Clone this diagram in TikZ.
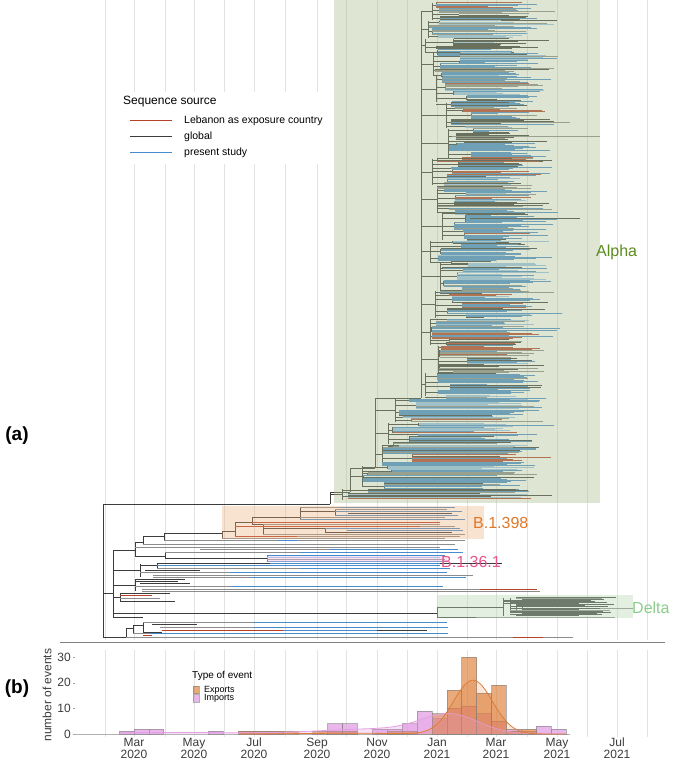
\documentclass[tikz,border=0pt]{standalone}
\usepackage{fontspec}
\setmainfont{Liberation Sans}
\definecolor{cblue}{RGB}{70,140,205}
\definecolor{clblue}{RGB}{150,195,235}
\definecolor{cdark}{RGB}{60,60,60}
\definecolor{cgray}{RGB}{140,140,140}
\definecolor{cred}{RGB}{180,65,40}
\definecolor{gridc}{RGB}{226,226,226}
\definecolor{alphabg}{RGB}{175,190,145}
\definecolor{bbg}{RGB}{235,175,125}
\definecolor{deltabg}{RGB}{187,217,182}
\definecolor{b361bg}{RGB}{240,190,220}
\definecolor{alphatxt}{RGB}{92,140,30}
\definecolor{btxt}{RGB}{225,120,40}
\definecolor{b361txt}{RGB}{232,84,140}
\definecolor{deltatxt}{RGB}{140,205,140}
\definecolor{expc}{RGB}{222,125,55}
\definecolor{impc}{RGB}{228,160,228}
\definecolor{axtxt}{RGB}{60,60,60}
\tikzset{
  gridline/.style={draw=gridc, line width=0.6pt},
  brline/.style={draw=cdark, line width=0.6pt},
  tipline/.style={line width=1pt},
  cladelbl/.style={anchor=west, inner sep=0pt, font=\fontsize{16}{16}\selectfont},
  monthlbl/.style={align=center, inner sep=0pt, text=axtxt, font=\fontsize{12}{12}\selectfont},
  ticklbl/.style={anchor=east, inner sep=0pt, text=axtxt, font=\fontsize{12}{12}\selectfont},
  panellbl/.style={inner sep=0pt, font=\fontsize{19}{19}\selectfont\bfseries},
  leglbl/.style={anchor=west, inner sep=0pt, font=\fontsize{10.5}{10.5}\selectfont},
  impbar/.style={fill=impc, fill opacity=0.75, draw=gray, draw opacity=0.6, line width=0.6pt},
  expbar/.style={fill=expc, fill opacity=0.65, draw=gray, draw opacity=0.6, line width=0.6pt},
}
\newcommand\picktc{%
  \pgfmathtruncatemacro\ci{random(1,100)}%
  \ifnum\ci<46 \def\tc{cblue}\else
  \ifnum\ci<58 \def\tc{clblue}\else
  \ifnum\ci<79 \def\tc{cdark}\else
  \ifnum\ci<95 \def\tc{cgray}\else
  \def\tc{cred}\fi\fi\fi\fi}
\def\grouploop{%
  \ifdim\cury pt<\cend pt
    \pgfmathtruncatemacro\gs{random(2,7)}%
    \pgfmathsetmacro\gx{\nodex+rnd*32}%
    \pgfmathsetmacro\gtop{\cury}%
    \pgfmathsetmacro\gbot{\cury+(\gs-1)*1.1}%
    \picktc\let\gc\tc
    \draw[brline] (\nodex,{(\gtop+\gbot)/2}) -- (\gx,{(\gtop+\gbot)/2});
    \draw[brline] (\gx,\gtop) -- (\gx,\gbot);
    \foreach \ti in {1,...,\gs}{%
      \pgfmathtruncatemacro\cj{random(1,100)}%
      \ifnum\cj<62 \let\tc\gc\else\picktc\fi
      \pgfmathsetmacro\ty{\gtop+(\ti-1)*1.1}%
      \pgfmathsetmacro\te{\endbase+rnd*44+rnd*44}%
      \draw[tipline,draw=\tc] (\gx,\ty) -- (\te,\ty);
    }%
    \pgfmathsetmacro\cury{\gbot+1.1}%
    \expandafter\grouploop
  \fi}
\newcommand\subclade[5]{%
  \draw[brline] (#3,#1) -- (#3,#2);
  \draw[brline] (#4,{(#1+#2)/2}) -- (#3,{(#1+#2)/2});
  \def\cury{#1}\def\cend{#2}\def\nodex{#3}\def\endbase{#5}%
  \grouploop}
\begin{document}
\begin{tikzpicture}[x=1pt,y=-1pt]
\useasboundingbox (0,0) rectangle (672,762);
\fill[white] (0,0) rectangle (672,762);
\pgfmathsetseed{7}
% grid
\foreach \gxx in {105,134,165,194,224,254,285,317,346,377,407,437,467,496,527,557,587,617,647}{
  \draw[gridline] (\gxx,0) -- (\gxx,640);
  \draw[gridline] (\gxx,650) -- (\gxx,737);
}
% legend (a)
\fill[white] (108,92) rectangle (332,164);
\node[anchor=west, inner sep=0pt, font=\fontsize{12}{12}\selectfont] (legtitle) at (123,102) {Sequence source};
\draw[cred, line width=1pt] (130,121) -- (172,121);
\draw[cdark, line width=1pt] (130,137) -- (172,137);
\draw[cblue, line width=1pt] (130,153) -- (172,153);
\node[leglbl] (legred) at (184,121) {Lebanon as exposure country};
\node[leglbl] (leggray) at (184,137) {global};
\node[leglbl] (legblue) at (184,153) {present study};

% ===== Alpha clade =====
\draw[brline] (421,11) -- (421,398);
\subclade{3}{20}{432}{421}{478}
\subclade{21}{38}{428}{421}{478}
\subclade{39}{52}{425}{421}{476}
\subclade{53}{75}{433}{421}{478}
\subclade{76}{102}{436}{421}{478}
\subclade{103}{128}{446}{421}{480}
\subclade{129}{158}{448}{421}{480}
\subclade{159}{185}{432}{421}{476}
\subclade{186}{212}{437}{421}{478}
\subclade{213}{240}{442}{421}{478}
\subclade{241}{262}{430}{421}{476}
\subclade{263}{290}{440}{421}{478}
\subclade{291}{318}{435}{421}{476}
\subclade{319}{345}{430}{421}{476}
\subclade{346}{372}{438}{421}{476}
\subclade{373}{396}{425}{421}{474}
\draw[brline] (375,398) -- (375,468);
\draw[brline] (375,398) -- (421,398);
\subclade{399}{422}{395}{375}{470}
\subclade{423}{444}{388}{375}{468}
\subclade{445}{463}{382}{375}{468}
\draw[brline] (350,468) -- (350,492);
\draw[brline] (350,468) -- (375,468);
\subclade{466}{487}{362}{350}{468}
\draw[brline] (330,492) -- (330,504);
\draw[brline] (330,492) -- (350,492);
\subclade{489}{500}{342}{330}{468}
\draw[tipline,draw=cgray] (452,137) -- (600,137);
\draw[tipline,draw=cgray] (462,123) -- (570,123);
\draw[tipline,draw=cdark] (470,218) -- (580,218);

% ===== root and lower tree =====
\draw[brline] (103,504) -- (103,637);
\draw[brline] (103,504) -- (330,504);
\draw[brline] (103,593) -- (113,593);
\draw[brline] (103,637) -- (126,637);
% N1
\draw[brline] (113,550) -- (113,617);
\draw[brline] (113,550) -- (135,550);
\draw[brline] (113,570) -- (140,570);
\draw[brline] (113,585) -- (135,585);
\draw[brline] (113,597) -- (120,597);
\draw[brline] (113,613) -- (437,613);
\draw[tipline,draw=cdark] (113,617) -- (143,617);
% N2
\draw[brline] (135,542) -- (135,556);
\draw[brline] (135,542) -- (143,542);
\draw[tipline,draw=cgray] (135,547) -- (440,547);
\draw[tipline,draw=cgray] (200,549.5) -- (330,549.5);
\draw[tipline,draw=cblue] (330,549.5) -- (458,549.5);
\draw[brline] (135,556) -- (165,556);
% N3
\draw[brline] (143,536) -- (143,544);
\draw[brline] (143,536) -- (164,536);
\draw[tipline,draw=cgray] (143,544) -- (455,544);
% N4
\draw[brline] (164,533) -- (164,540);
\draw[brline] (164,533) -- (222,533);
\draw[tipline,draw=cgray] (164,540) -- (278,540);
\draw[tipline,draw=cblue] (278,540) -- (297,540);
\draw[tipline,draw=cgray] (297,540) -- (465,540);
% B.1.398 clade
\draw[brline] (222,531) -- (222,538);
\draw[brline] (222,531) -- (235,531);
\draw[brline] (235,522) -- (235,536);
\draw[brline] (235,522) -- (252,522);
\draw[brline] (252,517) -- (252,524);
\draw[brline] (252,517) -- (300,517);
\draw[brline] (252,524) -- (263,524);
\draw[brline] (263,524) -- (263,534);
\draw[brline] (263,528) -- (325,528);
\draw[brline] (325,528) -- (325,532);
\draw[brline] (300,507) -- (300,519);
\draw[brline] (300,511) -- (335,511);
\draw[brline] (335,509) -- (335,515);
\draw[tipline,draw=cgray] (300,507) -- (340,507);
\draw[tipline,draw=cblue] (340,507) -- (455,507);
\draw[tipline,draw=cgray] (335,509) -- (447,509);
\draw[tipline,draw=cblue] (335,511) -- (462,511);
\draw[tipline,draw=cdark] (348,513) -- (452,513);
\draw[tipline,draw=cblue] (335,515) -- (458,515);
\draw[tipline,draw=cgray] (300,517) -- (445,517);
\draw[tipline,draw=cblue] (300,519) -- (465,519);
\draw[tipline,draw=cred] (252,522) -- (440,522);
\draw[tipline,draw=cgray] (263,524) -- (440,524);
\draw[tipline,draw=cred] (235,526) -- (420,526);
\draw[tipline,draw=cgray] (420,526) -- (455,526);
\draw[tipline,draw=cblue] (325,528) -- (460,528);
\draw[tipline,draw=cblue] (347,530) -- (463,530);
\draw[tipline,draw=cdark] (325,532) -- (452,532);
\draw[tipline,draw=cgray] (263,534) -- (465,534);
\draw[tipline,draw=cred] (235,536) -- (297,536);
\draw[tipline,draw=cgray] (297,536) -- (460,536);
\draw[tipline,draw=cgray] (222,538) -- (445,538);
% N5 / B.1.36.1
\draw[brline] (165,552) -- (165,558);
\draw[tipline,draw=cgray] (165,552) -- (300,552);
\draw[tipline,draw=cblue] (300,552) -- (463,552);
\draw[brline] (165,558) -- (267,558);
\draw[brline] (267,555) -- (267,561);
\draw[tipline,draw=cblue] (267,555) -- (445,555);
\draw[tipline,draw=clblue] (267,557) -- (440,557);
\draw[tipline,draw=cgray] (267,559) -- (445,559);
\draw[tipline,draw=cblue] (267,561) -- (447,561);
% N6
\draw[brline] (140,564) -- (140,577);
\draw[brline] (140,565) -- (157,565);
\draw[brline] (157,563) -- (157,568);
\draw[tipline,draw=cdark] (157,563) -- (270,563);
\draw[tipline,draw=cblue] (270,563) -- (440,563);
\draw[tipline,draw=cdark] (440,563) -- (502,563);
\draw[tipline,draw=cblue] (157,565.5) -- (440,565.5);
\draw[tipline,draw=cgray] (157,568) -- (300,568);
\draw[tipline,draw=cblue] (300,568) -- (450,568);
\draw[tipline,draw=cgray] (140,572) -- (230,572);
\draw[tipline,draw=cblue] (230,572) -- (447,572);
\draw[tipline,draw=cgray] (153,575) -- (473,575);
\draw[tipline,draw=cgray] (153,577) -- (250,577);
\draw[tipline,draw=cblue] (250,577) -- (466,577);
\draw[tipline,draw=cdark] (145,570) -- (200,570);
% N8
\draw[brline] (135,579) -- (135,591);
\draw[tipline,draw=cdark] (135,579) -- (185,579);
\draw[tipline,draw=cdark] (135,581) -- (178,581);
\draw[tipline,draw=cdark] (140,583) -- (190,583);
\draw[tipline,draw=cgray] (135,586) -- (232,586);
\draw[tipline,draw=cblue] (232,586) -- (443,586);
\draw[tipline,draw=cgray] (142,589) -- (480,589);
\draw[tipline,draw=cred] (480,589) -- (537,589);
\draw[tipline,draw=cgray] (142,591) -- (540,591);
% small node
\draw[brline] (120,593) -- (120,601);
\draw[tipline,draw=cdark] (120,593) -- (170,593);
\draw[tipline,draw=cred] (120,595) -- (152,595);
\draw[tipline,draw=cgray] (120,598) -- (160,598);
\draw[tipline,draw=cdark] (120,601) -- (175,601);
% Delta clade
\draw[brline] (437,607) -- (437,617);
\draw[brline] (437,607) -- (503,607);
\draw[brline] (437,617) -- (476,617);
\draw[tipline,draw=cgray] (476,617) -- (615,617);
\draw[brline] (503,598) -- (503,616);
\draw[brline] (510,598) -- (510,613);
\draw[brline] (516,600) -- (516,611);
\draw[brline] (522,602) -- (522,609);
\foreach \i in {0,...,17}{
  \pgfmathsetmacro\ty{597.5+\i*1.05}
  \pgfmathsetmacro\ts{{503,510,516,522}[random(0,3)]}
  \pgfmathsetmacro\te{578+rnd*40}
  \pgfmathtruncatemacro\ci{random(1,100)}
  \ifnum\ci<62 \def\tc{cdark}\else\ifnum\ci<88 \def\tc{cgray}\else\def\tc{cred}\fi\fi
  \draw[tipline,draw=\tc] (\ts,\ty) -- (\te,\ty);
}
\draw[tipline,draw=cgray] (600,608) -- (633,608);
% bottom group
\draw[brline] (126,628) -- (126,637);
\draw[brline] (126,628) -- (133,628);
\draw[brline] (133,625) -- (133,633);
\draw[brline] (133,625) -- (143,625);
\draw[brline] (143,622) -- (143,632);
\draw[tipline,draw=cgray] (143,622) -- (253,622);
\draw[tipline,draw=cblue] (253,622) -- (447,622);
\draw[tipline,draw=cdark] (152,624) -- (197,624);
\draw[tipline,draw=cgray] (160,627) -- (253,627);
\draw[tipline,draw=cblue] (253,627) -- (448,627);
\draw[tipline,draw=cred] (162,630) -- (283,630);
\draw[tipline,draw=cblue] (283,630) -- (377,630);
\draw[tipline,draw=cdark] (377,630) -- (427,630);
\draw[tipline,draw=cdark] (143,632) -- (162,632);
\draw[tipline,draw=cgray] (133,633.5) -- (150,633.5);
\draw[tipline,draw=cblue] (150,633.5) -- (448,633.5);
\draw[tipline,draw=cred] (143,635.5) -- (152,635.5);
\draw[tipline,draw=cgray] (126,637.5) -- (513,637.5);
\draw[tipline,draw=cred] (513,637.5) -- (543,637.5);
\draw[tipline,draw=cgray] (543,637.5) -- (573,637.5);
% baseline
\draw[draw=gray, line width=0.9pt] (60,642) -- (665,642);

% highlight boxes
\fill[alphabg, fill opacity=0.4] (334,0) rectangle (600,503);
\fill[bbg, fill opacity=0.35] (222,506) rectangle (484,538.5);
\fill[b361bg, fill opacity=0.4] (267,556) rectangle (447,562);
\fill[deltabg, fill opacity=0.4] (437,595) rectangle (633,618);
\node[cladelbl, text=alphatxt] (lalpha) at (596,252) {Alpha};
\node[cladelbl, text=btxt] (lb398) at (473,523) {B.1.398};
\node[cladelbl, text=b361txt] (lb361) at (441,562) {B.1.36.1};
\node[cladelbl, text=deltatxt] (ldelta) at (632,608) {Delta};
\node[panellbl] (pa) at (17,436) {(a)};

% ===== panel (b) =====
\node[panellbl] (pb) at (17,689) {(b)};
\node[rotate=90, inner sep=0pt, text=axtxt, font=\fontsize{12}{12}\selectfont] (ylab) at (47,695) {number of events};
\node[ticklbl] (t30) at (71,657.2) {30};
\node[ticklbl] (t20) at (71,682.8) {20};
\node[ticklbl] (t10) at (71,708.4) {10};
\node[ticklbl] (t0) at (71,734) {0};
\foreach \yy in {657.2,682.8,708.4,734}{\draw[gray!70, line width=0.5pt] (72.5,\yy) -- (75,\yy);}
\draw[gray!60, line width=0.6pt] (75,734) -- (570,734);
% import bars
\foreach \k/\h in {0/1,1/2,2/2,6/1,8/1,9/1,10/1,14/4,15/4,17/2,18/2,19/4,20/9,21/6,22/10,23/11,24/8,25/5,26/2,27/1,28/3,29/2}{
  \draw[impbar] ({119+14.9*\k},734) rectangle ({119+14.9*(\k+1)},{734-2.56*\h});
}
% export bars
\foreach \k/\h in {8/1,9/1,10/1,11/1,13/1,14/1,15/1,18/1,19/1,21/8,22/17,23/30,24/16,25/19,26/1,27/2}{
  \draw[expbar] ({119+14.9*\k},734) rectangle ({119+14.9*(\k+1)},{734-2.56*\h});
}
% densities
\fill[impc, fill opacity=0.3] (119,734) -- plot[domain=119:566,samples=120,smooth] (\x,{734-2.56*(7*exp(-min(((\x-450)/28)^2/2,9))+2*exp(-min(((\x-380)/60)^2/2,9))+0.6*exp(-min(((\x-170)/70)^2/2,9)))}) -- (566,734) -- cycle;
\draw[impc, line width=0.8pt] plot[domain=119:566,samples=120,smooth] (\x,{734-2.56*(7*exp(-min(((\x-450)/28)^2/2,9))+2*exp(-min(((\x-380)/60)^2/2,9))+0.6*exp(-min(((\x-170)/70)^2/2,9)))});
\fill[expc, fill opacity=0.18] (240,734) -- plot[domain=240:566,samples=140,smooth] (\x,{734-2.56*(21*exp(-min(((\x-473)/19.5)^2/2,9))+0.3*exp(-min(((\x-350)/45)^2/2,9)))}) -- (566,734) -- cycle;
\draw[expc, line width=0.8pt] plot[domain=240:566,samples=140,smooth] (\x,{734-2.56*(21*exp(-min(((\x-473)/19.5)^2/2,9))+0.3*exp(-min(((\x-350)/45)^2/2,9)))});
% legend (b)
\node[anchor=west, inner sep=0pt, font=\fontsize{10}{10}\selectfont] (legb) at (192,676) {Type of event};
\draw[expbar] (193,686) rectangle (199,693.5);
\draw[impbar] (193,694.5) rectangle (199,702);
\node[anchor=west, inner sep=0pt, font=\fontsize{9}{9}\selectfont] (lexp) at (204,690) {Exports};
\node[anchor=west, inner sep=0pt, font=\fontsize{9}{9}\selectfont] (limp) at (204,698.5) {Imports};
% month labels
\node[monthlbl] (m1) at (134,748) {Mar\\2020};
\node[monthlbl] (m2) at (194,748) {May\\2020};
\node[monthlbl] (m3) at (254,748) {Jul\\2020};
\node[monthlbl] (m4) at (317,748) {Sep\\2020};
\node[monthlbl] (m5) at (377,748) {Nov\\2020};
\node[monthlbl] (m6) at (437,748) {Jan\\2021};
\node[monthlbl] (m7) at (496,748) {Mar\\2021};
\node[monthlbl] (m8) at (557,748) {May\\2021};
\node[monthlbl] (m9) at (617,748) {Jul\\2021};
\end{tikzpicture}
\end{document}
